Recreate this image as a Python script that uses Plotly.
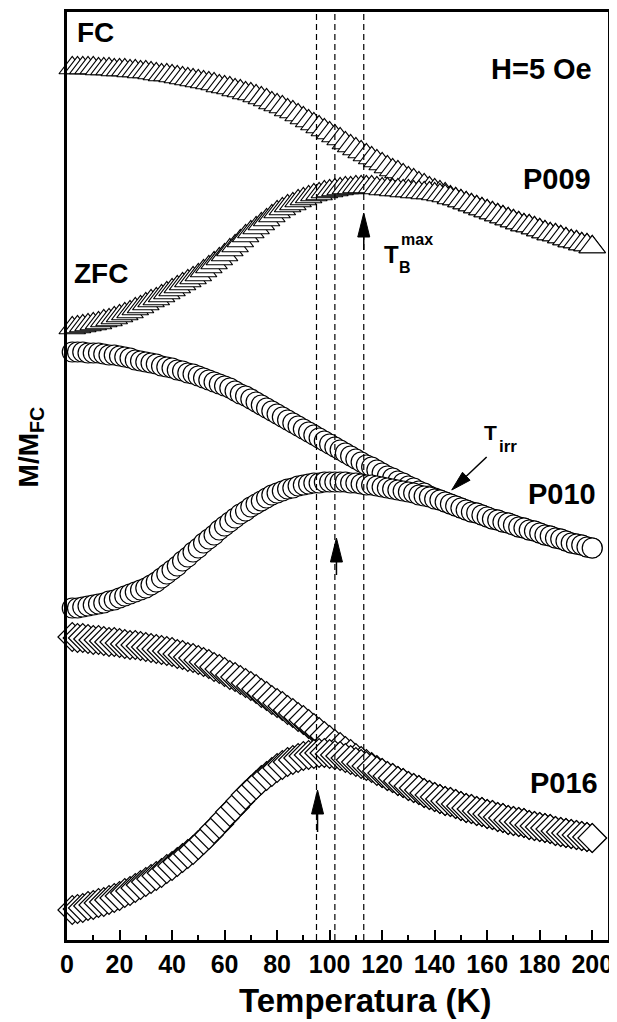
import math
import plotly.graph_objects as go

# ---------------- data ----------------
T = [2, 4, 6, 8, 10, 12, 14, 16, 18, 20,
     22, 24, 26, 28, 30, 32, 34, 36, 38, 40,
     42, 44, 46, 48, 50, 52, 54, 56, 58, 60,
     62, 64, 66, 68, 70, 72, 74, 76, 78, 80,
     82, 84, 86, 88, 90, 92, 94, 96, 98, 100,
     102, 104, 106, 108, 110, 112, 114, 116, 118, 120,
     122, 124, 126, 128, 130, 132, 134, 136, 138, 140,
     142, 144, 146, 148, 150, 152, 154, 156, 158, 160,
     162, 164, 166, 168, 170, 172, 174, 176, 178, 180,
     182, 184, 186, 188, 190, 192, 194, 196, 198, 200]

# vertical positions in the stacked (offset) plot, arbitrary units
fc_p009 = [8.72, 8.72, 8.72, 8.72, 8.72, 8.71, 8.71, 8.71, 8.70, 8.70,
           8.70, 8.69, 8.69, 8.68, 8.68, 8.67, 8.66, 8.65, 8.65, 8.64,
           8.63, 8.62, 8.61, 8.60, 8.59, 8.58, 8.57, 8.56, 8.54, 8.53,
           8.52, 8.50, 8.49, 8.47, 8.46, 8.44, 8.42, 8.40, 8.37, 8.35,
           8.33, 8.30, 8.28, 8.25, 8.22, 8.19, 8.16, 8.13, 8.10, 8.07,
           8.04, 8.01, 7.97, 7.94, 7.91, 7.88, 7.85, 7.82, 7.79, 7.76,
           7.73, 7.70, 7.68, 7.65, 7.62, 7.60, 7.57, 7.55, 7.52, 7.50,
           7.48, 7.46, 7.43, 7.41, 7.39, 7.37, 7.35, 7.33, 7.31, 7.29,
           7.27, 7.25, 7.23, 7.21, 7.19, 7.17, 7.15, 7.14, 7.12, 7.10,
           7.08, 7.06, 7.05, 7.03, 7.01, 6.99, 6.98, 6.96, 6.95, 6.93]
# ZFC below the irreversibility temperature (above it ZFC follows FC)
zfc_p009 = [6.12, 6.13, 6.14, 6.15, 6.16, 6.17, 6.19, 6.20, 6.22, 6.24,
            6.26, 6.28, 6.31, 6.33, 6.36, 6.39, 6.41, 6.44, 6.47, 6.50,
            6.53, 6.56, 6.59, 6.62, 6.65, 6.69, 6.73, 6.77, 6.81, 6.85,
            6.90, 6.94, 6.99, 7.04, 7.08, 7.12, 7.16, 7.20, 7.24, 7.28,
            7.31, 7.34, 7.36, 7.39, 7.41, 7.43, 7.45, 7.46, 7.48, 7.49,
            7.50, 7.51, 7.52, 7.52, 7.53, 7.53, 7.53, 7.53, 7.52, 7.51,
            7.51, 7.50, 7.50, 7.49, 7.49, 7.48, 7.48, 7.47, 7.47, 7.46,
            7.45, 7.44, 7.42, 7.41]

fc_p010 = [5.88, 5.88, 5.88, 5.87, 5.87, 5.87, 5.86, 5.85, 5.85, 5.84,
           5.83, 5.82, 5.80, 5.79, 5.78, 5.77, 5.76, 5.74, 5.73, 5.72,
           5.70, 5.69, 5.67, 5.66, 5.64, 5.62, 5.60, 5.58, 5.56, 5.54,
           5.52, 5.49, 5.46, 5.44, 5.41, 5.38, 5.35, 5.32, 5.29, 5.26,
           5.23, 5.20, 5.17, 5.14, 5.11, 5.08, 5.05, 5.02, 4.99, 4.96,
           4.93, 4.90, 4.87, 4.84, 4.81, 4.78, 4.75, 4.73, 4.70, 4.67,
           4.64, 4.62, 4.59, 4.57, 4.54, 4.52, 4.49, 4.47, 4.44, 4.42,
           4.40, 4.38, 4.36, 4.34, 4.32, 4.30, 4.28, 4.27, 4.25, 4.23,
           4.21, 4.20, 4.18, 4.17, 4.15, 4.13, 4.12, 4.10, 4.09, 4.07,
           4.05, 4.04, 4.02, 4.01, 3.99, 3.97, 3.96, 3.95, 3.93, 3.92]
zfc_p010 = [3.32, 3.32, 3.33, 3.34, 3.35, 3.36, 3.37, 3.39, 3.40, 3.42,
            3.44, 3.46, 3.48, 3.50, 3.52, 3.55, 3.58, 3.62, 3.66, 3.70,
            3.74, 3.79, 3.83, 3.88, 3.92, 3.97, 4.01, 4.05, 4.10, 4.14,
            4.18, 4.22, 4.26, 4.29, 4.33, 4.36, 4.39, 4.42, 4.45, 4.47,
            4.49, 4.51, 4.52, 4.54, 4.55, 4.56, 4.57, 4.57, 4.58, 4.58,
            4.58, 4.58, 4.58, 4.57, 4.57, 4.56, 4.55, 4.55, 4.54, 4.53,
            4.52, 4.51, 4.50, 4.49, 4.48, 4.47, 4.45, 4.44, 4.43, 4.41,
            4.40, 4.38, 4.36]

fc_p016 = [3.03, 3.02, 3.02, 3.01, 3.00, 3.00, 2.99, 2.98, 2.98, 2.97,
           2.96, 2.95, 2.95, 2.94, 2.93, 2.92, 2.91, 2.90, 2.89, 2.88,
           2.86, 2.85, 2.83, 2.82, 2.80, 2.78, 2.76, 2.73, 2.71, 2.68,
           2.65, 2.63, 2.60, 2.57, 2.54, 2.51, 2.47, 2.44, 2.40, 2.37,
           2.34, 2.30, 2.27, 2.23, 2.20, 2.16, 2.12, 2.08, 2.04, 2.00,
           1.96, 1.93, 1.89, 1.86, 1.82, 1.79, 1.76, 1.73, 1.70, 1.67,
           1.64, 1.62, 1.59, 1.57, 1.54, 1.52, 1.50, 1.47, 1.45, 1.43,
           1.41, 1.39, 1.38, 1.36, 1.34, 1.32, 1.31, 1.29, 1.28, 1.26,
           1.25, 1.23, 1.22, 1.20, 1.19, 1.18, 1.17, 1.15, 1.14, 1.13,
           1.12, 1.11, 1.09, 1.08, 1.07, 1.06, 1.05, 1.04, 1.03, 1.02]
zfc_p016 = [0.30, 0.31, 0.32, 0.34, 0.35, 0.37, 0.38, 0.40, 0.42, 0.44,
            0.47, 0.49, 0.52, 0.55, 0.58, 0.61, 0.64, 0.67, 0.71, 0.74,
            0.78, 0.82, 0.86, 0.90, 0.95, 1.00, 1.05, 1.11, 1.16, 1.22,
            1.28, 1.33, 1.39, 1.45, 1.50, 1.55, 1.60, 1.64, 1.68, 1.72,
            1.75, 1.78, 1.80, 1.82, 1.84, 1.85, 1.86, 1.87, 1.87, 1.86,
            1.85, 1.84, 1.82, 1.80, 1.78, 1.76, 1.74, 1.72, 1.69, 1.67]

samples = ["P009", "P010", "P016"]
T_B_max = [113, 102, 95]          # K, blocking temperatures (dashed lines)
x_ticks = [0, 20, 40, 60, 80, 100, 120, 140, 160, 180, 200]

# ---------------- layout geometry ----------------
# the page body keeps its default 8 px margin, so the figure is 8 px smaller
W, H = 609, 1014
ML, MR, MT, MB = 59, 9, 4, 82
PW, PH = W - ML - MR, H - MT - MB
XR = [0, 206]
YR = [0, 9.28]
FONT = "Liberation Sans, Arial, sans-serif"


def to_px(x, y):
    return ((x - XR[0]) / (XR[1] - XR[0]) * PW, (y - YR[0]) / (YR[1] - YR[0]) * PH)


def to_data(px, py):
    return (XR[0] + px / PW * (XR[1] - XR[0]), YR[0] + py / PH * (YR[1] - YR[0]))


def arrow_shapes(tail, tip, head_len=24, head_w=12, width=1.5):
    tx, ty = to_px(*tail)
    hx, hy = to_px(*tip)
    dx, dy = hx - tx, hy - ty
    L = math.hypot(dx, dy)
    ux, uy = dx / L, dy / L
    bx, by = hx - ux * head_len, hy - uy * head_len
    nx, ny = -uy, ux
    p1 = to_data(bx + nx * head_w / 2, by + ny * head_w / 2)
    p2 = to_data(bx - nx * head_w / 2, by - ny * head_w / 2)
    base = to_data(bx, by)
    shaft = dict(type="line", xref="x", yref="y", x0=tail[0], y0=tail[1],
                 x1=base[0], y1=base[1], line=dict(color="black", width=width))
    head = dict(type="path", xref="x", yref="y",
                path=f"M {tip[0]},{tip[1]} L {p1[0]},{p1[1]} L {p2[0]},{p2[1]} Z",
                fillcolor="black", line=dict(color="black", width=1))
    return [shaft, head]


fig = go.Figure()

series = [
    (fc_p009, zfc_p009, "triangle-up", 23),
    (fc_p010, zfc_p010, "circle", 20),
    (fc_p016, zfc_p016, "diamond", 22),
]
for name, (fc, zfc_low, sym, size) in zip(samples, series):
    zfc_full = zfc_low + fc[len(zfc_low):]
    mk = dict(symbol=sym, size=size, color="white", line=dict(color="black", width=1.2))
    fig.add_trace(go.Scatter(x=T, y=fc, mode="markers", marker=mk, name=name + " FC",
                             showlegend=False, cliponaxis=False))
    fig.add_trace(go.Scatter(x=T, y=zfc_full, mode="markers", marker=mk, name=name + " ZFC",
                             showlegend=False, cliponaxis=False))

shapes = []
for tb in T_B_max:
    shapes.append(dict(type="line", xref="x", yref="paper", x0=tb, x1=tb, y0=0, y1=1,
                       line=dict(color="black", width=1.2, dash="6px,4px"), layer="above"))

# arrows (tail, tip) in data coordinates
shapes += arrow_shapes((113, 6.90), (113, 7.27))
shapes += arrow_shapes((102.6, 3.65), (102.6, 4.02))
shapes += arrow_shapes((95.4, 1.08), (95.4, 1.50))
shapes += arrow_shapes((159.8, 4.83), (146.5, 4.50), head_len=20, head_w=11)


def txt(x, y, s, size, xanchor="center", yanchor="middle", xref="x", yref="y", angle=0):
    return dict(x=x, y=y, xref=xref, yref=yref, text=s, showarrow=False,
                xanchor=xanchor, yanchor=yanchor, textangle=angle,
                font=dict(family=FONT, size=size, color="black", weight="bold"))


annotations = [
    txt(3.0, 9.08, "FC", 28, xanchor="left"),
    txt(1.9, 6.67, "ZFC", 28, xanchor="left"),
    txt(200.5, 8.71, "H=5 Oe", 29, xanchor="right"),
    txt(200.3, 7.61, "P009", 29, xanchor="right"),
    txt(202.2, 4.46, "P010", 29, xanchor="right"),
    txt(203.0, 1.57, "P016", 29, xanchor="right"),
    txt(123.6, 6.86, "T", 24),
    txt(133.3, 7.01, "max", 16),
    txt(128.6, 6.73, "B", 16),
    txt(161.4, 5.08, "T", 21),
    txt(167.9, 4.94, "irr", 17),
    txt(0.55, -0.065, "Temperatura (K)", 33, xref="paper", yref="paper"),
    txt(-0.068, 0.531, "M/M<sub>FC</sub>", 28, xref="paper", yref="paper", angle=-90),
]

fig.update_layout(
    width=W, height=H,
    margin=dict(l=ML, r=MR, t=MT, b=MB, pad=0, autoexpand=False),
    plot_bgcolor="white", paper_bgcolor="white",
    shapes=shapes, annotations=annotations,
    showlegend=False,
)
fig.update_xaxes(
    range=XR, tickvals=x_ticks, ticktext=[str(v) for v in x_ticks],
    ticks="inside", ticklen=10, tickwidth=2, tickcolor="black",
    minor=dict(dtick=10, tick0=0, ticks="inside", ticklen=5, tickwidth=2, tickcolor="black"),
    showline=True, linewidth=2.5, linecolor="black", mirror=True,
    showgrid=False, zeroline=False, automargin=False,
    tickfont=dict(family=FONT, size=25, color="black", weight="bold"),
)
fig.update_yaxes(
    range=YR, showticklabels=False, ticks="",
    showline=True, linewidth=2.5, linecolor="black", mirror=True,
    showgrid=False, zeroline=False, automargin=False,
)

fig.write_html("out.html")
